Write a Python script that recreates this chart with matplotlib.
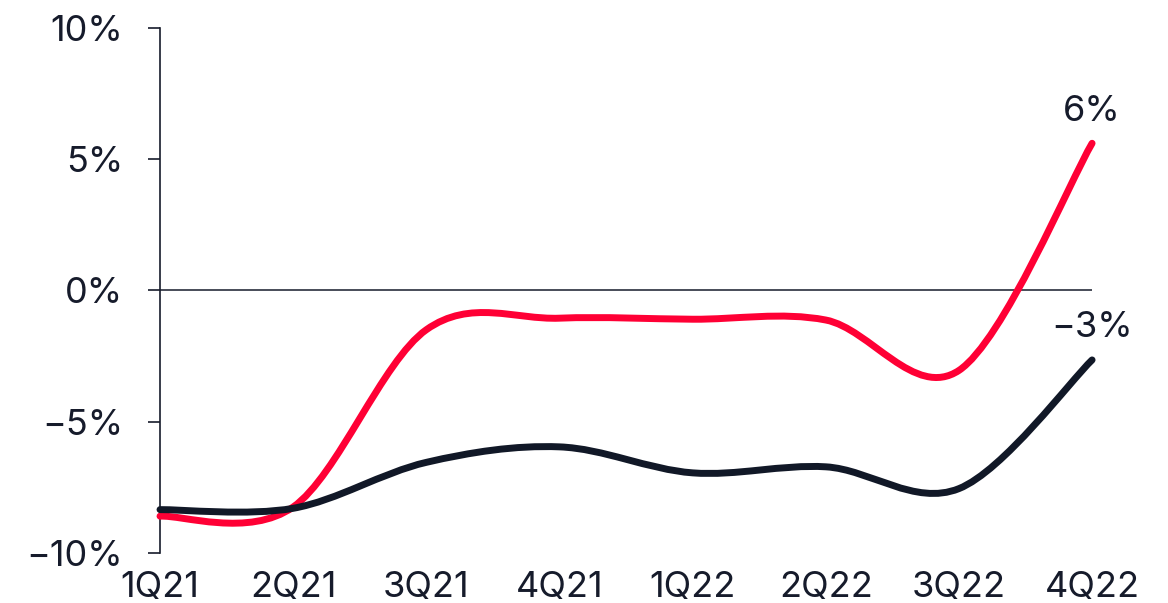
import matplotlib.pyplot as plt
from matplotlib.path import Path
from matplotlib.patches import PathPatch

plt.rcParams['font.family'] = ['Inter', 'DejaVu Sans']

quarters = ['1Q21', '2Q21', '3Q21', '4Q21', '1Q22', '2Q22', '3Q22', '4Q22']
red_vals = [-8.6, -8.25, -1.5, -1.06, -1.1, -1.13, -3.05, 5.6]
dark_vals = [-8.35, -8.3, -6.55, -5.96, -6.95, -6.72, -7.55, -2.65]

text_col = '#161b2b'
red_col = '#ff0035'
dark_col = '#111827'
fs = 26


def smooth_path(xs, ys):
    # catmull-rom through the points, written as cubic bezier segments
    pts = list(zip(xs, ys))
    verts = [pts[0]]
    codes = [Path.MOVETO]
    n = len(pts)
    for i in range(n - 1):
        p0 = pts[max(i - 1, 0)]
        p1 = pts[i]
        p2 = pts[i + 1]
        p3 = pts[min(i + 2, n - 1)]
        c1 = (p1[0] + (p2[0] - p0[0]) / 6, p1[1] + (p2[1] - p0[1]) / 6)
        c2 = (p2[0] - (p3[0] - p1[0]) / 6, p2[1] - (p3[1] - p1[1]) / 6)
        verts += [c1, c2, p2]
        codes += [Path.CURVE4] * 3
    return Path(verts, codes)


fig = plt.figure(figsize=(11.68, 6.03), dpi=100)
ax = fig.add_axes([0.137, 0.083, 0.798, 0.871])

x = list(range(len(quarters)))
for vals, col in [(red_vals, red_col), (dark_vals, dark_col)]:
    ax.add_patch(PathPatch(smooth_path(x, vals), fill=False, edgecolor=col,
                           lw=5, capstyle='round', joinstyle='round',
                           clip_on=False, zorder=3))

ax.axhline(0, color=text_col, lw=1.1, zorder=2)

# end-of-line value labels
for vals in [red_vals, dark_vals]:
    v = vals[-1]
    ax.annotate(f'{round(v)}%'.replace('-', '\u2212'), (x[-1], v),
                xytext=(0, 23), textcoords='offset points',
                ha='center', va='center', fontsize=fs, color=text_col)

ax.set_xlim(0, 7)
ax.set_ylim(-10, 10)
ax.set_xticks(x)
ax.set_xticklabels(quarters)
ax.set_yticks([-10, -5, 0, 5, 10])
ax.set_yticklabels([f'{t}%'.replace('-', '\u2212') for t in [-10, -5, 0, 5, 10]])

for s in ['top', 'right', 'bottom']:
    ax.spines[s].set_visible(False)
ax.spines['left'].set_color(text_col)
ax.spines['left'].set_linewidth(1.2)
ax.tick_params(axis='y', length=8.5, width=1.2, color=text_col, pad=18,
               labelsize=fs, labelcolor=text_col)
ax.tick_params(axis='x', length=0, pad=13, labelsize=fs, labelcolor=text_col)

fig.savefig('out.png', dpi=100)
